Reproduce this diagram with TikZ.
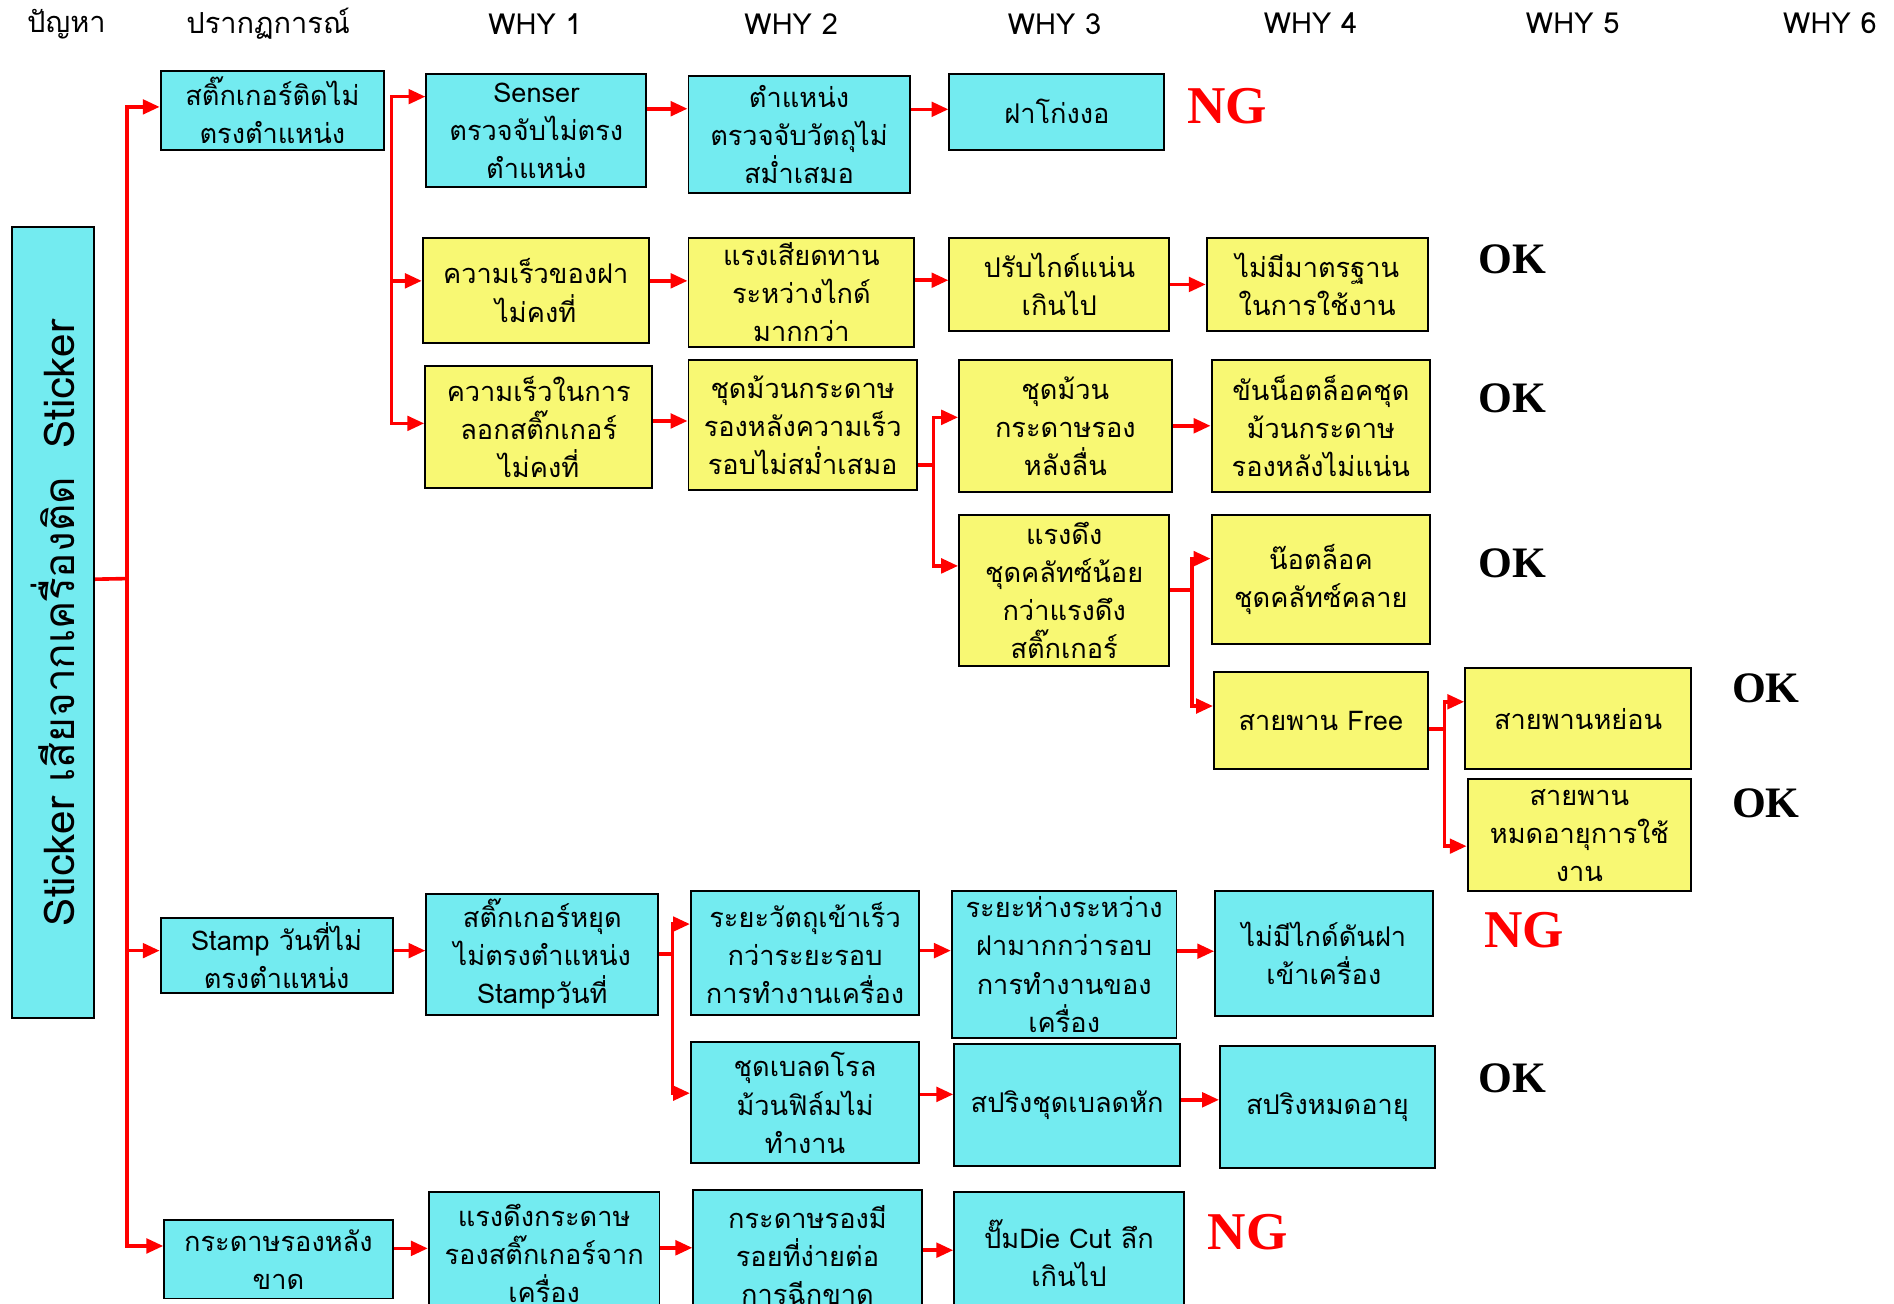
\documentclass[tikz,border=0pt]{standalone}
\usepackage{fontspec}
\usepackage{tikz}
\usetikzlibrary{arrows.meta}
\newfontfamily\thaifont[Script=Thai]{Loma}
\newfontfamily\markfont{Liberation Serif}
\definecolor{boxcyan}{RGB}{115,235,240}
\definecolor{boxyellow}{RGB}{248,248,115}
\definecolor{linkred}{RGB}{255,0,0}
\tikzset{
  wh/.style 2 args={minimum width=#1pt, minimum height=#2pt},
  box/.style={draw=black, line width=1.6pt, inner sep=0pt, align=center,
    font=\thaifont\fontsize{22.5}{31.5}\selectfont},
  cbox/.style={box, fill=boxcyan},
  ybox/.style={box, fill=boxyellow},
  hd/.style={font=\thaifont\fontsize{24}{30}\selectfont},
  wire/.style={draw=linkred, line width=3pt},
  link/.style={wire, -{Triangle[length=14pt,width=12pt]}},
  ng/.style={text=linkred, font=\markfont\bfseries\fontsize{44}{44}\selectfont},
  ok/.style={font=\markfont\bfseries\fontsize{36}{36}\selectfont},
}

\begin{document}
\begin{tikzpicture}[x=1pt,y=1pt]
    \useasboundingbox[fill=white] (0,0) rectangle (1568,-1079);
    \clip (0,0) rectangle (1568,-1079);

    \node[hd] (h0) at (55,-20) {ปัญหา};
    \node[hd] (h1) at (222,-20) {ปรากฏการณ์};
    \node[hd] (w1) at (443,-20) {WHY 1};
    \node[hd] (w2) at (655,-20) {WHY 2};
    \node[hd] (w3) at (873,-20) {WHY 3};
    \node[hd] (w4) at (1085,-19) {WHY 4};
    \node[hd] (w5) at (1302,-19) {WHY 5};
    \node[hd] (w6) at (1515,-19) {WHY 6};

    \node[cbox, wh={68}{655}] (prob) at (44,-515.5)
        {\rotatebox{90}{\fontsize{35}{40}\selectfont Sticker เสียจากเครื่องติด\ \ Sticker}};

    \node[cbox, wh={185}{65}] (a1) at (225.5,-91.5) {สติ๊กเกอร์ติดไม่\\ตรงตำแหน่ง};
    \node[cbox, wh={182}{94}] (b1) at (444,-108) {Senser\\ตรวจจับไม่ตรง\\ตำแหน่ง};
    \node[cbox, wh={183}{97}] (c1) at (661.5,-111.5) {ตำแหน่ง\\ตรวจจับวัตถุไม่\\สม่ำเสมอ};
    \node[cbox, wh={178}{63}] (d1) at (875,-92.5) {ฝาโก่งงอ};
    \node[ng] (ng1) at (1016,-88) {NG};

    \node[ybox, wh={187}{87}] (b2) at (443.5,-240.5) {ความเร็วของฝา\\ไม่คงที่};
    \node[ybox, wh={187}{90}] (c2) at (663.5,-242) {แรงเสียดทาน\\ระหว่างไกด์\\มากกว่า};
    \node[ybox, wh={182}{77}] (d2) at (877,-235.5) {ปรับไกด์แน่น\\เกินไป};
    \node[ybox, wh={183}{77}] (e2) at (1090.5,-235.5) {ไม่มีมาตรฐาน\\ในการใช้งาน};
    \node[ok] (ok2) at (1252,-215) {OK};

    \node[ybox, wh={188}{101}] (b3) at (446,-353.5) {ความเร็วในการ\\ลอกสติ๊กเกอร์\\ไม่คงที่};
    \node[ybox, wh={189}{108}] (c3) at (664.5,-352) {ชุดม้วนกระดาษ\\รองหลังความเร็ว\\รอบไม่สม่ำเสมอ};
    \node[ybox, wh={176}{109}] (d3) at (882,-352.5) {ชุดม้วน\\กระดาษรอง\\หลังลื่น};
    \node[ybox, wh={181}{109}] (e3) at (1093.5,-352.5) {ขันน็อตล็อคชุด\\ม้วนกระดาษ\\รองหลังไม่แน่น};
    \node[ok] (ok3) at (1252,-330) {OK};

    \node[ybox, wh={174}{125}] (d4) at (881,-488.5) {แรงดึง\\ชุดคลัทซ์น้อย\\กว่าแรงดึง\\สติ๊กเกอร์};
    \node[ybox, wh={181}{107}] (e4) at (1093.5,-479.5) {น๊อตล็อค\\ชุดคลัทซ์คลาย};
    \node[ok] (ok4) at (1252,-466) {OK};

    \node[ybox, wh={177}{81}] (e5) at (1093.5,-596.5) {สายพาน Free};
    \node[ybox, wh={187}{84}] (f5) at (1306.5,-595) {สายพานหย่อน};
    \node[ybox, wh={185}{93}] (f6) at (1307.5,-691.5) {สายพาน\\หมดอายุการใช้\\งาน};
    \node[ok] (ok5) at (1462,-570) {OK};
    \node[ok] (ok6) at (1462,-665) {OK};

    \node[cbox, wh={192}{62}] (a2) at (229,-791) {Stamp วันที่ไม่\\ตรงตำแหน่ง};
    \node[cbox, wh={192}{100}] (b6) at (449,-790) {สติ๊กเกอร์หยุด\\ไม่ตรงตำแหน่ง\\Stampวันที่};
    \node[cbox, wh={189}{102}] (c6) at (666.5,-789) {ระยะวัตถุเข้าเร็ว\\กว่าระยะรอบ\\การทำงานเครื่อง};
    \node[cbox, wh={186}{121}] (d6) at (881,-798.5) {ระยะห่างระหว่าง\\ฝามากกว่ารอบ\\การทำงานของ\\เครื่อง};
    \node[cbox, wh={180}{103}] (e6) at (1096,-789.5) {ไม่มีไกด์ดันฝา\\เข้าเครื่อง};
    \node[ng] (ng6) at (1262,-770) {NG};

    \node[cbox, wh={189}{100}] (c7) at (666.5,-913) {ชุดเบลดโรล\\ม้วนฟิล์มไม่\\ทำงาน};
    \node[cbox, wh={187}{101}] (d7) at (883.5,-914.5) {สปริงชุดเบลดหัก};
    \node[cbox, wh={178}{101}] (e7) at (1099,-916.5) {สปริงหมดอายุ};
    \node[ok] (ok7) at (1252,-893) {OK};

    \node[cbox, wh={189}{65}] (a3) at (230.5,-1042.5) {กระดาษรองหลัง\\ขาด};
    \node[cbox, wh={191}{102}] (b8) at (450.5,-1038) {แรงดึงกระดาษ\\รองสติ๊กเกอร์จาก\\เครื่อง};
    \node[cbox, wh={189}{108}] (c8) at (668.5,-1039) {กระดาษรองมี\\รอยที่ง่ายต่อ\\การฉีกขาด};
    \node[cbox, wh={190}{101}] (d8) at (885,-1037.5) {ปั๊มDie Cut ลึก\\เกินไป};
    \node[ng] (ng8) at (1033,-1020) {NG};

    \coordinate (j0) at (105,-479);
    \draw[wire] ([yshift=36]prob.east) -- (j0);
    \draw[link] (j0) |- ([yshift=3]a1.west);
    \draw[link] (j0) |- ([yshift=4]a2.west);
    \draw[link] (j0) |- ([yshift=11]a3.west);

    \coordinate (j1) at (324,-232);
    \draw[link] (j1) |- ([yshift=28]b1.west);
    \draw[link] (j1) |- ([yshift=8]b2.west);
    \draw[link] (j1) |- ([yshift=3]b3.west);

    \draw[link] ([yshift=18]b1.east) -- ([yshift=18]b1.east -| c1.west);
    \draw[link] ([yshift=21]c1.east) -- ([yshift=21]c1.east -| d1.west);

    \draw[link] ([yshift=8]b2.east) -- ([yshift=8]b2.east -| c2.west);
    \draw[link] ([yshift=10]c2.east) -- ([yshift=10]c2.east -| d2.west);
    \draw[link] (d2) -- (e2);

    \draw[link] ([yshift=5]b3.east) -- ([yshift=5]b3.east -| c3.west);
    \draw[wire] ([yshift=-33]c3.east) -- ++(13,0) coordinate (j3);
    \draw[link] (j3) |- ([yshift=7]d3.west);
    \draw[link] (j3) |- ([yshift=20]d4.west);
    \draw[link] (d3) -- (e3);

    \draw[wire] (d4.east) -- ++(18,0) coordinate (j4);
    \draw[link] (j4) |- ([yshift=17]e4.west);
    \draw[link] (j4) |- ([yshift=12]e5.west);

    \draw[wire] ([yshift=-7]e5.east) -- ++(13,0) coordinate (j5);
    \draw[link] (j5) |- ([yshift=14]f5.west);
    \draw[link] (j5) |- ([yshift=-9]f6.west);

    \draw[link] ([yshift=4]a2.east) -- ([yshift=4]a2.east -| b6.west);
    \draw[wire] (b6.east) -- ++(11,0) coordinate (j6);
    \draw[link] (j6) |- ([yshift=24]c6.west);
    \draw[link] (j6) |- ([yshift=8]c7.west);
    \draw[link] ([yshift=2]c6.east) -- ([yshift=2]c6.east -| d6.west);
    \draw[link] ([yshift=11]d6.east) -- ([yshift=11]d6.east -| e6.west);
    \draw[link] ([yshift=7]c7.east) -- ([yshift=7]c7.east -| d7.west);
    \draw[link] ([yshift=4]d7.east) -- ([yshift=4]d7.east -| e7.west);

    \draw[link] ([yshift=9]a3.east) -- ([yshift=9]a3.east -| b8.west);
    \draw[link] ([yshift=5]b8.east) -- ([yshift=5]b8.east -| c8.west);
    \draw[link] ([yshift=4]c8.east) -- ([yshift=4]c8.east -| d8.west);
\end{tikzpicture}
\end{document}
